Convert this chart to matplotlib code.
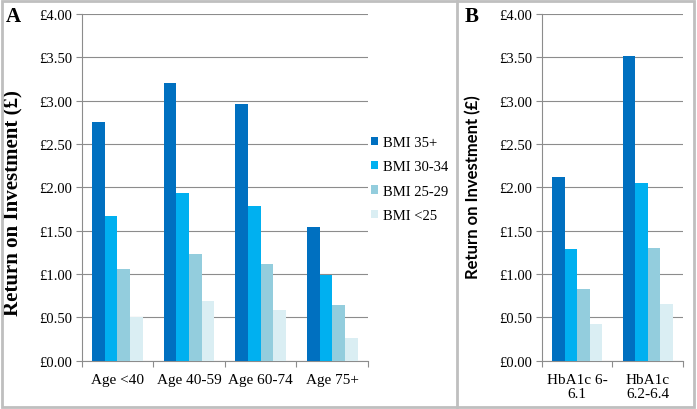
import matplotlib
matplotlib.use("Agg")
import matplotlib.pyplot as plt
import numpy as np
from matplotlib.patches import Rectangle
from matplotlib.lines import Line2D

# ---- data ----
age_groups = ["Age <40", "Age 40-59", "Age 60-74", "Age 75+"]
hba1c_groups = ["HbA1c 6-\n6.1", "HbA1c\n6.2-6.4"]
series = ["BMI 35+", "BMI 30-34", "BMI 25-29", "BMI <25"]

age_bmi35 = [2.75, 3.20, 2.96, 1.54]
age_bmi30 = [1.67, 1.93, 1.78, 0.99]
age_bmi25 = [1.06, 1.23, 1.12, 0.64]
age_bmi_lt25 = [0.50, 0.69, 0.58, 0.26]

hb_bmi35 = [2.12, 3.52]
hb_bmi30 = [1.29, 2.05]
hb_bmi25 = [0.83, 1.30]
hb_bmi_lt25 = [0.42, 0.65]

yticks = [0, 0.5, 1.0, 1.5, 2.0, 2.5, 3.0, 3.5, 4.0]
ytick_labels = ["£0.00", "£0.50", "£1.00", "£1.50", "£2.00", "£2.50", "£3.00", "£3.50", "£4.00"]

colors = ["#0070C0", "#00B0F0", "#93CDDD", "#DAEEF3"]
grid_col = "#8C8C8C"
serif = "Liberation Serif"

W, H = 697, 410
fig = plt.figure(figsize=(W / 100, H / 100), dpi=100)

def fx(px):
    return px / W

def fy(py):
    return 1 - py / H

axA = fig.add_axes([fx(81.7), fy(361.7), fx(368) - fx(81.7), fy(15) - fy(361.7)])
axB = fig.add_axes([fx(541.7), fy(361.7), fx(683) - fx(541.7), fy(15) - fy(361.7)])

def draw(ax, cats, vals):
    n = len(cats)
    x = np.arange(n)
    bw = 0.177
    handles = []
    for i, (v, c) in enumerate(zip(vals, colors)):
        h = ax.bar(x + (i - 1.5) * bw, v, width=bw, color=c, zorder=3, linewidth=0)
        handles.append(h)
    ax.set_xlim(-0.5, n - 0.5)
    ax.set_ylim(0, 4.0)
    ax.set_yticks(yticks)
    ax.set_yticklabels(ytick_labels, fontfamily=serif, fontsize=10.5)
    ax.set_xticks(x)
    ax.set_xticklabels(cats, fontfamily=serif, fontsize=11, linespacing=1.05)
    ax.set_xticks(np.arange(n + 1) - 0.5, minor=True)
    ax.tick_params(axis="x", which="major", length=0, pad=9)
    ax.tick_params(axis="x", which="minor", length=4, color=grid_col, width=0.8)
    ax.tick_params(axis="y", length=4, color=grid_col, width=0.8, pad=3)
    ax.grid(axis="y", color=grid_col, linewidth=0.8, zorder=0)
    for s in ["top", "right"]:
        ax.spines[s].set_visible(False)
    for s in ["left", "bottom"]:
        ax.spines[s].set_color(grid_col)
        ax.spines[s].set_linewidth(0.8)
    return handles

hA = draw(axA, age_groups, [age_bmi35, age_bmi30, age_bmi25, age_bmi_lt25])
draw(axB, hba1c_groups, [hb_bmi35, hb_bmi30, hb_bmi25, hb_bmi_lt25])

axA.set_ylabel("Return on Investment (£)", fontfamily=serif, fontweight="bold", fontsize=15,
               va="center")
axA.yaxis.set_label_coords(fx(13), fy(203), transform=fig.transFigure)
axB.set_ylabel("Return on Investment (£)", fontfamily="Lato", fontweight="bold", fontsize=12,
               va="center")
axB.yaxis.set_label_coords(fx(473), fy(187), transform=fig.transFigure)

leg = fig.legend(hA, series, loc="upper left", bbox_to_anchor=(fx(371), fy(137)),
                 frameon=False, prop={"family": serif, "size": 10.5},
                 handlelength=0.5, handleheight=0.5, handletextpad=0.35,
                 labelspacing=0.78, borderpad=0, borderaxespad=0)

fig.text(fx(13), fy(16.5), "A", fontfamily=serif, fontweight="bold", fontsize=15,
         ha="center", va="center")
fig.text(fx(471.5), fy(16.5), "B", fontfamily=serif, fontweight="bold", fontsize=15,
         ha="center", va="center")

# borders
border_col = "#BFBFBF"
fig.patches.append(Rectangle((fx(2), fy(408)), fx(694) - fx(2), fy(1.5) - fy(408),
                             transform=fig.transFigure, fill=False,
                             edgecolor=border_col, linewidth=2))
fig.lines.append(Line2D([fx(457), fx(457)], [fy(1.5), fy(408)],
                        transform=fig.transFigure, color=border_col, linewidth=2))

fig.savefig("out.png", dpi=100)
